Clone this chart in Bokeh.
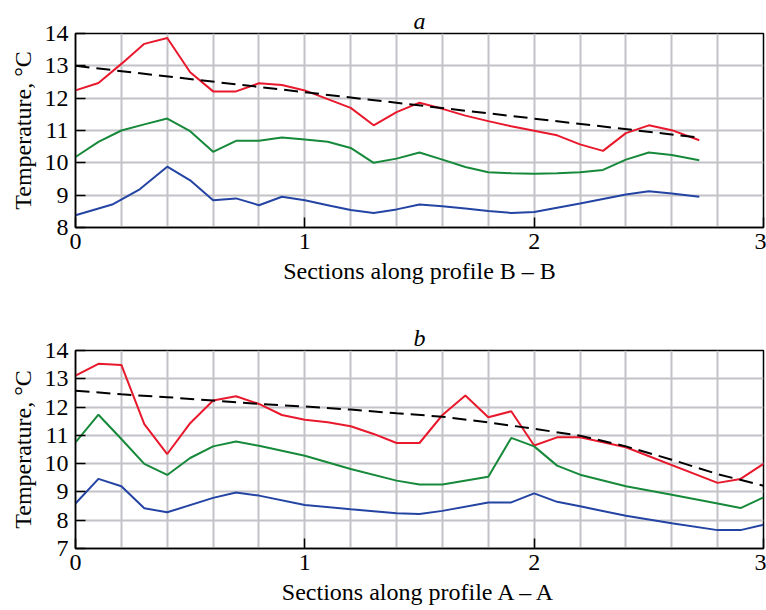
from bokeh.plotting import figure
from bokeh.layouts import column
from bokeh.models import Range1d, FixedTicker
from bokeh.embed import file_html
from bokeh.resources import INLINE

# ---- data: panel a (profile B-B) ----
a_red_x = [0, 0.1, 0.2, 0.3, 0.4, 0.5, 0.6, 0.7, 0.8, 0.9, 1.0, 1.1, 1.2, 1.3, 1.4,
           1.5, 1.6, 1.7, 1.8, 1.9, 2.0, 2.1, 2.2, 2.3, 2.4, 2.5, 2.6, 2.72]
a_red_y = [12.24, 12.47, 13.06, 13.68, 13.86, 12.8, 12.21, 12.21, 12.46, 12.41, 12.24, 11.97,
           11.7, 11.16, 11.57, 11.86, 11.67, 11.46, 11.29, 11.13, 10.99, 10.85, 10.57, 10.37,
           10.92, 11.16, 11.01, 10.7]
a_green_x = [0, 0.1, 0.2, 0.3, 0.4, 0.5, 0.6, 0.7, 0.8, 0.9, 1.0, 1.1, 1.2, 1.3, 1.4,
             1.5, 1.6, 1.7, 1.8, 1.9, 2.0, 2.1, 2.2, 2.3, 2.4, 2.5, 2.6, 2.72]
a_green_y = [10.18, 10.65, 11.0, 11.19, 11.37, 10.98, 10.34, 10.68, 10.68, 10.78, 10.72, 10.65,
             10.46, 10.0, 10.13, 10.32, 10.1, 9.87, 9.71, 9.68, 9.66, 9.68, 9.71, 9.78,
             10.1, 10.32, 10.24, 10.08]
a_blue_x = [0, 0.16, 0.28, 0.4, 0.5, 0.6, 0.7, 0.8, 0.9, 1.0, 1.1, 1.2, 1.3, 1.4,
            1.5, 1.6, 1.7, 1.8, 1.9, 2.0, 2.1, 2.2, 2.3, 2.4, 2.5, 2.6, 2.72]
a_blue_y = [8.38, 8.71, 9.18, 9.88, 9.46, 8.84, 8.9, 8.69, 8.95, 8.84, 8.69, 8.54, 8.45, 8.56,
            8.71, 8.66, 8.59, 8.51, 8.45, 8.48, 8.61, 8.74, 8.88, 9.02, 9.12, 9.05, 8.95]
a_trend_x = [0, 2.72]
a_trend_y = [13.0, 10.78]

# ---- data: panel b (profile A-A) ----
b_red_x = [0, 0.1, 0.2, 0.3, 0.4, 0.5, 0.6, 0.7, 0.8, 0.9, 1.0, 1.1, 1.2, 1.3, 1.4,
           1.5, 1.6, 1.7, 1.8, 1.9, 2.0, 2.1, 2.2, 2.4, 2.8, 2.9, 3.0]
b_red_y = [13.11, 13.53, 13.49, 11.4, 10.34, 11.43, 12.23, 12.38, 12.11, 11.72, 11.55, 11.46,
           11.32, 11.05, 10.73, 10.73, 11.72, 12.41, 11.64, 11.85, 10.64, 10.93, 10.93,
           10.58, 9.32, 9.46, 9.99]
b_green_x = [0, 0.1, 0.2, 0.3, 0.4, 0.5, 0.6, 0.7, 0.8, 1.0, 1.2, 1.4, 1.5, 1.6, 1.8,
             1.9, 2.0, 2.1, 2.2, 2.4, 2.6, 2.8, 2.9, 3.0]
b_green_y = [10.75, 11.73, 10.87, 9.99, 9.6, 10.2, 10.61, 10.78, 10.63, 10.28, 9.81, 9.4,
             9.26, 9.26, 9.54, 10.91, 10.61, 9.93, 9.61, 9.2, 8.9, 8.59, 8.43, 8.81]
b_blue_x = [0, 0.1, 0.2, 0.3, 0.4, 0.6, 0.7, 0.8, 1.0, 1.2, 1.4, 1.5, 1.6, 1.8, 1.9,
            2.0, 2.1, 2.2, 2.4, 2.6, 2.8, 2.9, 3.0]
b_blue_y = [8.59, 9.46, 9.2, 8.42, 8.28, 8.79, 8.98, 8.87, 8.54, 8.39, 8.25, 8.22, 8.33,
            8.63, 8.63, 8.95, 8.65, 8.49, 8.16, 7.89, 7.65, 7.65, 7.84]
b_trend_x = [0, 0.2, 0.4, 0.6, 0.8, 1.0, 1.2, 1.4, 1.6, 1.8, 2.0, 2.2, 2.4, 2.6, 2.8, 3.0]
b_trend_y = [12.58, 12.45, 12.35, 12.23, 12.11, 12.02, 11.91, 11.78, 11.66, 11.46, 11.23,
             10.99, 10.61, 10.14, 9.63, 9.22]

x_major = [0, 1, 2, 3]
x_minor = [0.2, 0.4, 0.6, 0.8, 1.2, 1.4, 1.6, 1.8, 2.2, 2.4, 2.6, 2.8]

RED = "#e8192c"
GREEN = "#17893a"
BLUE = "#2444a4"
GRID = "#c2c2c8"
FONT = "Liberation Serif"


def make_panel(title, xlabel, ymin, ymax, height, top, bottom, series, trend):
    p = figure(width=766, height=height, output_backend="svg", toolbar_location=None,
               x_range=Range1d(0, 3), y_range=Range1d(ymin, ymax),
               min_border_left=75, min_border_right=3,
               min_border_top=top, min_border_bottom=bottom)
    p.title.text = title
    p.title.align = "center"
    p.title.text_font = FONT
    p.title.text_font_style = "italic"
    p.title.text_font_size = "24px"
    p.title.text_color = "black"
    p.title.standoff = 0

    p.xaxis.ticker = FixedTicker(ticks=x_major, minor_ticks=x_minor)
    p.yaxis.ticker = FixedTicker(ticks=list(range(ymin, ymax + 1)))
    for ax in (p.xaxis, p.yaxis):
        ax.major_tick_in = 10
        ax.major_tick_out = 0
        ax.minor_tick_line_color = None
        ax.major_tick_line_color = "black"
        ax.major_tick_line_width = 1.5
        ax.axis_line_color = "black"
        ax.axis_line_width = 1.5
        ax.major_label_text_font = FONT
        ax.major_label_text_font_size = "24px"
        ax.major_label_text_color = "black"
        ax.axis_label_text_font = FONT
        ax.axis_label_text_font_size = "24px"
        ax.axis_label_text_font_style = "normal"
        ax.axis_label_text_color = "black"
    p.xaxis.axis_label = xlabel
    p.yaxis.axis_label = "Temperature, °C"
    p.xaxis.major_label_standoff = 2
    p.yaxis.major_label_standoff = 7
    p.xaxis.axis_label_standoff = 6
    p.yaxis.axis_label_standoff = 6

    p.xgrid.grid_line_color = GRID
    p.xgrid.grid_line_width = 2
    p.xgrid.minor_grid_line_color = GRID
    p.xgrid.minor_grid_line_width = 2
    p.ygrid.grid_line_color = GRID
    p.ygrid.grid_line_width = 2

    p.outline_line_color = "black"
    p.outline_line_width = 1.5
    p.background_fill_color = "white"
    p.border_fill_color = "white"

    for xs, ys, c in series:
        p.line(xs, ys, line_color=c, line_width=2)
    p.line(trend[0], trend[1], line_color="black", line_width=2, line_dash="14 7")
    return p


p1 = make_panel("a", "Sections along profile B – B", 8, 14, 300, 33, 73,
                [(a_red_x, a_red_y, RED), (a_green_x, a_green_y, GREEN), (a_blue_x, a_blue_y, BLUE)],
                (a_trend_x, a_trend_y))
p2 = make_panel("b", "Sections along profile A – A", 7, 14, 310, 50, 62,
                [(b_red_x, b_red_y, RED), (b_green_x, b_green_y, GREEN), (b_blue_x, b_blue_y, BLUE)],
                (b_trend_x, b_trend_y))

layout = column(p1, p2, spacing=0)
open("out.html", "w").write(file_html(layout, INLINE))
